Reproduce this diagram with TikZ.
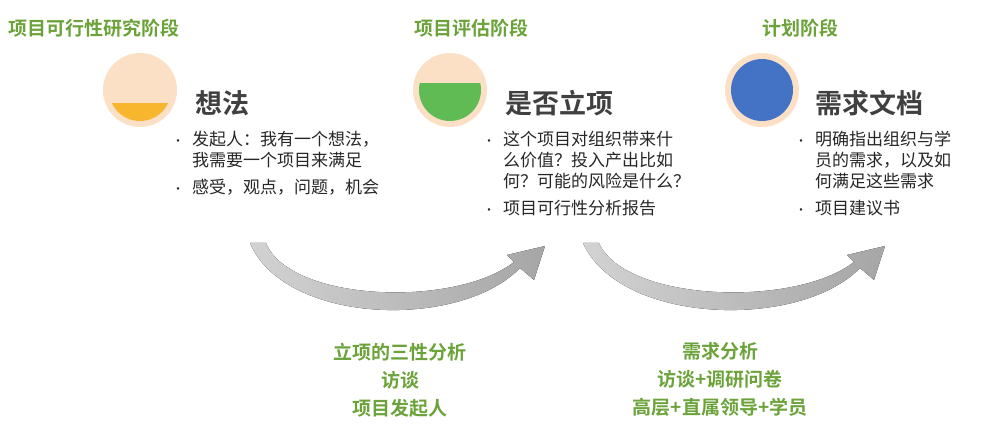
\documentclass[tikz,border=0pt]{standalone}
\usepackage{fontspec}
\setmainfont{Noto Sans CJK SC}
\newfontfamily\cjkb{Noto Sans CJK SC Bold}
\definecolor{peach}{HTML}{FBE0C6}
\definecolor{sgreen}{HTML}{6BA33A}
\definecolor{amber}{HTML}{F8B62F}
\definecolor{lgreen}{HTML}{60BB54}
\definecolor{sblue}{HTML}{4472C4}
\begin{document}
\begin{tikzpicture}[x=1pt,y=-1pt,
  stage/.style={font=\cjkb\fontsize{19}{22}\selectfont,anchor=west,inner sep=0,text=sgreen},
  head/.style={font=\cjkb\fontsize{27}{30}\selectfont,text=black!75,anchor=west,inner sep=0},
  body/.style={font=\fontsize{17}{21}\selectfont,text=black!85,anchor=north west,align=left,inner sep=0},
  lab/.style={font=\cjkb\fontsize{19}{28}\selectfont,align=center,text=sgreen},
  arr/.style={left color=gray!35,right color=gray!70,draw=none}]
\useasboundingbox (0,0) rectangle (1005,427);
\newcommand{\bl}{\makebox[20pt][l]{\fontsize{12}{12}\selectfont•}}
\newcommand{\ind}{\hspace*{20pt}}
% circles
\node[circle,fill=peach,minimum size=74pt,inner sep=0] (c1) at (140,90) {};
\begin{scope}\clip (140,90) circle (31); \fill[amber] (100,103) rectangle (180,130);\end{scope}
\node[circle,fill=peach,minimum size=74pt,inner sep=0] (c2) at (450,90) {};
\begin{scope}\clip (450,90) circle (31); \fill[lgreen] (410,83) rectangle (490,130);\end{scope}
\node[circle,fill=peach,minimum size=74pt,inner sep=0] (c3) at (762,90) {};
\fill[sblue] (762,90) circle (31);
% stage titles
\node[stage] (s1) at (8,28) {项目可行性研究阶段};
\node[stage] (s2) at (414,28) {项目评估阶段};
\node[stage] (s3) at (762,28) {计划阶段};
% heads
\node[head] (h1) at (195,103) {想法};
\node[head] (h2) at (505,103) {是否立项};
\node[head] (h3) at (815,103) {需求文档};
% bodies
\node[body] (b1) at (172,131) {\bl 发起人：我有一个想法，\\\ind 我需要一个项目来满足\\[6pt]\bl 感受，观点，问题，机会};
\node[body] (b2) at (483,131) {\bl 这个项目对组织带来什\\\ind 么价值？投入产出比如\\\ind 何？可能的风险是什么？\\[6pt]\bl 项目可行性分析报告};
\node[body] (b3) at (795,131) {\bl 明确指出组织与学\\\ind 员的需求，以及如\\\ind 何满足这些需求\\[6pt]\bl 项目建议书};
% arrows
\fill[arr] (250,243) .. controls (285,325) and (460,330) .. (520,268) -- (534,280) -- (545,246) -- (507,255) -- (514,262) .. controls (455,308) and (290,302) .. (266,243) -- cycle;
\fill[arr] (583,243) .. controls (620,325) and (800,330) .. (860,268) -- (874,280) -- (885,246) -- (847,255) -- (854,262) .. controls (795,308) and (625,302) .. (599,243) -- cycle;
% labels
\node[lab] (l1) at (400,380) {立项的三性分析\\访谈\\项目发起人};
\node[lab] (l2) at (720,379) {需求分析\\访谈+调研问卷\\高层+直属领导+学员};
\end{tikzpicture}
\end{document}
